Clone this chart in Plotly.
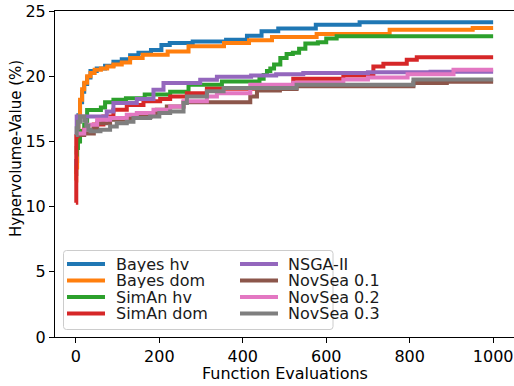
import plotly.graph_objects as go

# ---- data ----
names = ["Bayes hv", "Bayes dom", "SimAn hv", "SimAn dom",
         "NSGA-II", "NovSea 0.1", "NovSea 0.2", "NovSea 0.3"]
colors = ["#1f77b4", "#ff7f0e", "#2ca02c", "#d62728",
          "#9467bd", "#8c564b", "#e377c2", "#7f7f7f"]

bayes_hv_x = [0, 1, 3, 6, 10, 15, 20, 27, 35, 50, 70, 90, 110, 130, 150, 180, 205, 225, 280, 360, 410, 445, 485, 575, 680, 1000]
bayes_hv_y = [12.5, 13.5, 15.5, 17.0, 18.0, 18.8, 19.4, 19.9, 20.4, 20.6, 20.8, 21.1, 21.3, 21.6, 21.8, 22.0, 22.4, 22.55, 22.67, 22.8, 23.1, 23.44, 23.65, 23.95, 24.13, 24.13]

bayes_dom_x = [0, 1, 3, 6, 10, 15, 20, 27, 35, 45, 60, 75, 90, 110, 130, 160, 220, 270, 355, 415, 470, 577, 752, 951, 1000]
bayes_dom_y = [12.0, 13.0, 15.0, 16.9, 18.2, 19.0, 19.5, 20.0, 20.25, 20.5, 20.6, 20.75, 20.9, 21.05, 21.4, 21.65, 21.9, 22.3, 22.55, 22.75, 23.0, 23.24, 23.57, 23.7, 23.7]

siman_hv_x = [0, 2, 5, 10, 20, 27, 60, 70, 90, 120, 165, 226, 270, 350, 440, 450, 458, 466, 475, 490, 505, 520, 535, 550, 580, 600, 625, 1000]
siman_hv_y = [14.0, 14.5, 15.0, 15.8, 16.3, 17.4, 17.6, 18.0, 18.2, 18.3, 18.6, 18.8, 19.35, 19.6, 19.8, 20.1, 20.4, 20.6, 20.9, 21.4, 21.7, 21.8, 22.1, 22.5, 22.6, 22.9, 23.07, 23.07]

siman_dom_x = [0, 1, 4, 19, 43, 66, 90, 122, 162, 202, 226, 266, 314, 521, 641, 713, 737, 793, 817, 1000]
siman_dom_y = [10.3, 15.4, 15.5, 15.9, 16.3, 16.9, 17.43, 17.8, 18.07, 18.25, 18.45, 18.7, 19.04, 19.8, 20.05, 20.75, 20.96, 21.27, 21.45, 21.45]

nsga_x = [0, 2, 74, 90, 146, 186, 210, 298, 338, 420, 480, 545, 700, 850, 1000]
nsga_y = [15.5, 16.9, 17.3, 17.95, 18.25, 18.96, 19.48, 19.73, 19.95, 20.05, 20.15, 20.25, 20.3, 20.35, 20.35]

novsea01_x = [0, 20, 43, 51, 82, 130, 180, 194, 218, 258, 418, 434, 489, 529, 809, 889, 1000]
novsea01_y = [15.5, 15.6, 16.0, 16.4, 16.66, 16.9, 17.05, 17.43, 17.68, 18.0, 18.45, 18.9, 19.02, 19.22, 19.48, 19.58, 19.58]

novsea02_x = [0, 20, 27, 51, 82, 122, 146, 186, 226, 258, 314, 338, 418, 521, 641, 700, 795, 905, 1000]
novsea02_y = [15.6, 15.9, 16.28, 16.66, 16.8, 17.05, 17.18, 17.43, 17.68, 18.07, 18.45, 18.7, 19.35, 19.5, 19.75, 19.9, 20.15, 20.5, 20.5]

novsea03_x = [0, 2, 5, 10, 20, 25, 30, 35, 59, 82, 98, 122, 138, 178, 200, 226, 258, 266, 314, 354, 529, 809, 1000]
novsea03_y = [15.5, 16.0, 16.5, 16.9, 16.6, 16.2, 15.9, 15.77, 15.9, 16.15, 16.4, 16.5, 16.8, 16.9, 17.18, 17.3, 17.95, 18.45, 18.84, 19.1, 19.35, 19.75, 19.75]

series_x = [bayes_hv_x, bayes_dom_x, siman_hv_x, siman_dom_x, nsga_x, novsea01_x, novsea02_x, novsea03_x]
series_y = [bayes_hv_y, bayes_dom_y, siman_hv_y, siman_dom_y, nsga_y, novsea01_y, novsea02_y, novsea03_y]

x_ticks = [0, 200, 400, 600, 800, 1000]
y_ticks = [0, 5, 10, 15, 20, 25]
x_title = "Function Evaluations"
y_title = "Hypervolume-Value (%)"

FONT = "DejaVu Sans"
W, H = 514, 386
ML, MR, MT, MB = 55, 0, 11, 49

fig = go.Figure()
for nm, c, xs, ys in zip(names, colors, series_x, series_y):
    fig.add_trace(go.Scatter(x=xs, y=ys, mode="lines", name=nm,
                             line=dict(color=c, width=4, shape="hv"),
                             showlegend=False))

pw, ph = W - ML - MR, H - MT - MB
def px2x(p):
    return (p - ML) / pw
def py2y(p):
    return (H - MB - p) / ph

# ---- manual legend (two columns, matplotlib-like, rounded frame) ----
lx0, lx1, ly0, ly1, r = 63.5, 333, 250.5, 329.5, 3
rx, ry = r / pw, r / ph
X0, X1, Y0, Y1 = px2x(lx0), px2x(lx1), py2y(ly1), py2y(ly0)
frame_path = (f"M{X0+rx},{Y0} L{X1-rx},{Y0} Q{X1},{Y0} {X1},{Y0+ry} "
              f"L{X1},{Y1-ry} Q{X1},{Y1} {X1-rx},{Y1} L{X0+rx},{Y1} "
              f"Q{X0},{Y1} {X0},{Y1-ry} L{X0},{Y0+ry} Q{X0},{Y0} {X0+rx},{Y0} Z")
shapes = [dict(type="path", xref="paper", yref="paper", path=frame_path,
               line=dict(color="#cccccc", width=1), fillcolor="rgba(255,255,255,0.8)",
               layer="above")]
annotations = []
row_y = [264, 280.5, 297, 313.5]
for i, (nm, c) in enumerate(zip(names, colors)):
    col, row = divmod(i, 4)
    sx = 67 if col == 0 else 240
    tx = 115 if col == 0 else 287
    yy = row_y[row]
    shapes.append(dict(type="line", xref="paper", yref="paper",
                       x0=px2x(sx), x1=px2x(sx + 38), y0=py2y(yy), y1=py2y(yy),
                       line=dict(color=c, width=4), layer="above"))
    annotations.append(dict(xref="paper", yref="paper", x=px2x(tx), y=py2y(yy),
                            text=nm, showarrow=False, xanchor="left", yanchor="middle",
                            height=15, borderpad=0, valign="middle",
                            font=dict(family=FONT, size=16, color="#1a1a1a")))

# axis titles
annotations.append(dict(xref="paper", yref="paper", x=px2x(284.5), y=py2y(373),
                        text=x_title, showarrow=False, xanchor="center", yanchor="middle",
                        font=dict(family=FONT, size=16, color="black")))
annotations.append(dict(xref="paper", yref="paper", x=px2x(16), y=py2y(149),
                        text=y_title, showarrow=False, xanchor="center", yanchor="middle",
                        textangle=-90, font=dict(family=FONT, size=15, color="black")))

fig.update_layout(
    width=W, height=H,
    margin=dict(l=ML, r=MR, t=MT, b=MB, autoexpand=False),
    paper_bgcolor="white", plot_bgcolor="white",
    font=dict(family=FONT, size=16, color="black"),
    shapes=shapes, annotations=annotations,
    xaxis=dict(range=[-50, 1050], tickvals=x_ticks, ticks="outside", ticklen=5,
               tickwidth=1, tickcolor="black", showline=True, linecolor="black",
               linewidth=1, mirror=True, showgrid=False, zeroline=False,
               automargin=False, tickfont=dict(family=FONT, size=16)),
    yaxis=dict(range=[0, 25], tickvals=y_ticks, ticks="outside", ticklen=5,
               tickwidth=1, tickcolor="black", showline=True, linecolor="black",
               linewidth=1, mirror=False, showgrid=False, zeroline=False,
               automargin=False, tickfont=dict(family=FONT, size=16)),
)

fig.write_html("out.html", config={"displayModeBar": False},
               post_script="document.body.style.margin='0';document.body.style.padding='0';document.body.style.overflow='hidden';")
